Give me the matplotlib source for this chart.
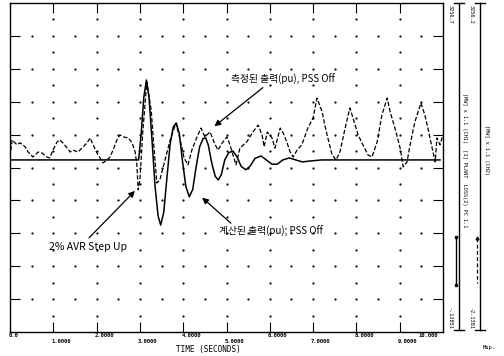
import matplotlib.pyplot as plt
import numpy as np
from matplotlib.lines import Line2D

plt.rcParams['font.family'] = ['Noto Sans CJK KR', 'DejaVu Sans']

# calculated output (solid), PSS off
t_calc = [0.0, 2.97, 3.03, 3.09, 3.15, 3.21, 3.28, 3.35, 3.42, 3.48, 3.55, 3.62,
          3.70, 3.77, 3.84, 3.91, 3.98, 4.06, 4.14, 4.22, 4.30, 4.38, 4.46, 4.52,
          4.58, 4.66, 4.74, 4.81, 4.88, 4.96, 5.05, 5.15, 5.24, 5.34, 5.45, 5.55,
          5.66, 5.80, 5.92, 6.05, 6.17, 6.30, 6.45, 6.60, 6.75, 6.95, 7.20, 9.93]
v_calc = [0.0, 0.0, 0.8, 1.9, 2.43, 1.9, 0.6, -0.8, -1.7, -1.98, -1.6, -0.6,
          0.5, 1.0, 1.12, 0.8, 0.0, -0.8, -1.12, -0.9, -0.2, 0.4, 0.65, 0.67,
          0.45, -0.1, -0.5, -0.61, -0.45, 0.0, 0.22, 0.27, 0.1, -0.2, -0.3, -0.18,
          0.05, 0.12, 0.0, -0.13, -0.13, 0.0, 0.06, 0.0, -0.06, -0.03, 0.0, 0.0]

# measured output (dashed), PSS off
t_meas = [0.00, 0.05, 0.16, 0.23, 0.35, 0.42, 0.53, 0.65, 0.74, 0.85, 0.92, 0.99,
          1.09, 1.15, 1.22, 1.32, 1.39, 1.45, 1.57, 1.66, 1.78, 1.85, 1.92, 2.01,
          2.08, 2.15, 2.24, 2.31, 2.38, 2.47, 2.54, 2.61, 2.73, 2.82, 2.89, 2.93,
          2.96, 3.00, 3.07, 3.16, 3.26, 3.33, 3.39, 3.46, 3.58, 3.70, 3.83, 3.93,
          4.02, 4.11, 4.20, 4.32, 4.41, 4.50, 4.62, 4.71, 4.80, 4.92, 5.01, 5.08,
          5.15, 5.22, 5.31, 5.47, 5.61, 5.73, 5.82, 5.87, 5.94, 6.05, 6.12, 6.24,
          6.31, 6.40, 6.47, 6.54, 6.63, 6.74, 6.88, 7.00, 7.09, 7.21, 7.27, 7.34,
          7.44, 7.53, 7.62, 7.74, 7.85, 7.92, 8.04, 8.15, 8.27, 8.36, 8.48, 8.59,
          8.71, 8.78, 8.89, 9.01, 9.08, 9.17, 9.24, 9.35, 9.49, 9.58, 9.65, 9.75,
          9.82, 9.86, 9.93, 10.0]
v_meas = [0.09, 0.61, 0.46, 0.52, 0.40, 0.24, 0.09, 0.24, 0.21, 0.09, 0.06, 0.30,
          0.55, 0.61, 0.52, 0.36, 0.24, 0.30, 0.24, 0.36, 0.52, 0.67, 0.46, 0.21,
          0.06, -0.09, 0.0, 0.09, 0.30, 0.61, 0.76, 0.70, 0.67, 0.52, 0.24, -0.15,
          -0.91, -0.61, 0.91, 2.37, 1.52, 0.30, -0.70, -0.61, 0.0, 0.61, 1.12, 0.61,
          0.06, -0.15, 0.30, 0.70, 0.97, 0.70, 0.85, 0.55, 0.30, 0.55, 0.70, 0.46,
          0.15, -0.15, 0.36, 0.55, 0.85, 1.06, 0.76, 0.40, 0.85, 0.67, 0.36, 0.97,
          0.82, 0.52, 0.24, 0.09, 0.30, 0.46, 0.97, 1.28, 1.88, 1.46, 1.06, 0.67,
          0.15, 0.0, 0.24, 0.97, 1.58, 1.28, 0.76, 0.46, 0.15, 0.09, 0.55, 1.37,
          1.88, 1.46, 0.97, 0.36, -0.21, -0.06, 0.46, 1.15, 1.73, 1.37, 0.97, 0.36,
          -0.06, 0.67, 0.46, 0.76]

x_ticks = [0, 1, 2, 3, 4, 5, 6, 7, 8, 9, 10]
x_labels = ['0.0', '1.0000', '2.0000', '3.0000', '4.0000', '5.0000',
            '6.0000', '7.0000', '8.0000', '9.0000', '10.000']

fig = plt.figure(figsize=(5.04, 3.56), dpi=100)
ax = fig.add_axes([10/504, 24/356, 433/504, 329/356])

y_top, y_bot = 4.77, -5.23
ax.set_xlim(0, 10)
ax.set_ylim(y_bot, y_top)

# dotted graticule
rows = y_top - np.arange(1, 10)
half_rows = y_top - 0.5 - np.arange(10)
half_cols = np.arange(0.5, 10, 0.5)
cols = np.arange(1, 10)
gx, gy = np.meshgrid(half_cols, rows)
ax.plot(gx.ravel(), gy.ravel(), 'k.', ms=1.2, zorder=1)
gx, gy = np.meshgrid(cols, half_rows)
ax.plot(gx.ravel(), gy.ravel(), 'k.', ms=1.2, zorder=1)

ax.plot(t_calc, v_calc, color='black', lw=1.1, zorder=3)
ax.plot(t_meas, v_meas, color='black', lw=0.9, ls=(0, (3.5, 1.6)), zorder=3)

ax.set_xticks(cols)
ax.set_yticks(rows)
ax.tick_params(direction='in', length=7, width=0.8, top=True, right=True,
               labelbottom=False, labelleft=False)
for s in ax.spines.values():
    s.set_linewidth(1.0)

for t, lab in zip(x_ticks, x_labels):
    dx = 0.08 if t == 0 else (-0.35 if t == 10 else 0.18)
    yy = -0.004 if t % 2 == 0 else -0.022
    ax.text(t + dx, yy, lab, transform=ax.get_xaxis_transform(), ha='center',
            va='top', fontsize=4, family='DejaVu Sans Mono', fontweight='bold')
ax.text(4.57, -0.038, 'TIME (SECONDS)', transform=ax.get_xaxis_transform(),
        ha='center', va='top', fontsize=5.5, family='DejaVu Sans Mono')

arrow = dict(arrowstyle='-|>', color='black', lw=0.9, mutation_scale=9)
ax.text(6.30, 2.43, '측정된 출력(pu), PSS Off', ha='center', va='center', fontsize=7)
ax.annotate('', xy=(4.67, 0.97), xytext=(5.89, 2.25), arrowprops=arrow)
ax.text(6.03, -2.19, '계산된 출력(pu); PSS Off', ha='center', va='center', fontsize=7)
ax.annotate('', xy=(4.39, -1.09), xytext=(5.15, -1.98), arrowprops=arrow)
ax.text(1.80, -2.64, '2% AVR Step Up', ha='center', va='center', fontsize=7.5)
ax.annotate('', xy=(2.93, -0.88), xytext=(1.78, -2.43), arrowprops=arrow)

# right-hand channel scales
def fx(px):
    return px / 504
def fy(py):
    return 1 - py / 356

for px in (459, 480):
    fig.add_artist(Line2D([fx(px), fx(px)], [fy(3), fy(330)], color='black', lw=1.0))
    fig.add_artist(Line2D([fx(px - 5), fx(px + 5)], [fy(3), fy(3)], color='black', lw=1.0))
    fig.add_artist(Line2D([fx(px - 5), fx(px + 5)], [fy(330), fy(330)], color='black', lw=1.0))
fig.add_artist(Line2D([fx(456), fx(456)], [fy(237), fy(285)], color='black', lw=1.0,
                      marker='s', ms=2, markevery=[0, 1]))
fig.add_artist(Line2D([fx(477), fx(477)], [fy(238), fy(283)], color='black', lw=0.9,
                      ls=(0, (3, 2)), marker='^', ms=2, markevery=[0]))

small = dict(rotation=-90, fontsize=3.8, family='DejaVu Sans Mono', ha='center', va='center')
fig.text(fx(450), fy(14), '3256.7', **small)
fig.text(fx(450), fy(318), '-.13851', **small)
fig.text(fx(471), fy(14), '3256.2', **small)
fig.text(fx(471), fy(318), '-2.1381', **small)
fig.text(fx(465), fy(160), '[MW] x 1.1 (CH1)  [1] PLANT  LOSS(2) PC 1.1', **small)
fig.text(fx(486), fy(150), '[MW] x 1.1 (CH2)', **small)
fig.text(fx(489), fy(347), 'Mup.', fontsize=4, family='DejaVu Sans Mono', ha='center', va='center')

fig.savefig('out.png', dpi=100)
